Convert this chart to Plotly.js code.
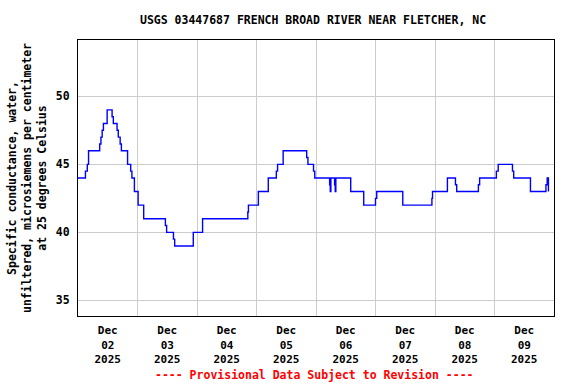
<!DOCTYPE html>
<html>
<head>
<meta charset="utf-8">
<script src="https://cdn.plot.ly/plotly-3.0.1.min.js"></script>
<style>html,body{margin:0;padding:0;background:#fff;}#chart{width:576px;height:384px;}</style>
</head>
<body>
<div id="chart"></div>
<script>
// Change points of the 15-minute record (value holds until the next time)
var times = [
'2025-12-02 00:00','2025-12-02 03:00','2025-12-02 03:45','2025-12-02 04:15','2025-12-02 08:45',
'2025-12-02 09:15','2025-12-02 09:45','2025-12-02 10:15','2025-12-02 11:45','2025-12-02 13:45',
'2025-12-02 14:15','2025-12-02 15:45','2025-12-02 16:15','2025-12-02 17:00','2025-12-02 17:30',
'2025-12-02 20:00','2025-12-02 21:15','2025-12-02 21:45','2025-12-02 22:45','2025-12-03 00:15',
'2025-12-03 02:30','2025-12-03 11:15','2025-12-03 11:45','2025-12-03 14:30','2025-12-03 15:00',
'2025-12-03 22:30','2025-12-04 02:15','2025-12-04 20:30','2025-12-04 20:45','2025-12-05 00:45',
'2025-12-05 04:45','2025-12-05 08:00','2025-12-05 08:30','2025-12-05 10:45','2025-12-05 20:15',
'2025-12-05 20:45','2025-12-05 23:00','2025-12-05 23:30','2025-12-06 05:30','2025-12-06 05:45',
'2025-12-06 06:00','2025-12-06 07:30','2025-12-06 07:45','2025-12-06 08:00','2025-12-06 14:00',
'2025-12-06 19:15','2025-12-07 00:00','2025-12-07 00:30','2025-12-07 11:00','2025-12-07 22:45',
'2025-12-07 23:00','2025-12-08 05:00','2025-12-08 08:15','2025-12-08 08:45','2025-12-08 17:30',
'2025-12-08 18:00','2025-12-09 00:45','2025-12-09 01:30','2025-12-09 07:15','2025-12-09 07:45',
'2025-12-09 14:30','2025-12-09 20:45','2025-12-09 21:15','2025-12-09 21:45'
];
var values = [
44,44.5,45,46,46.5,
47,47.5,48,49,48.5,
48,47.5,47,46.5,46,
45,44.5,44,43,42,
41,40.5,40,39.5,39,
40,41,41.5,42,43,
44,44.5,45,46,45.5,
45,44.5,44,43.5,43,
44,43.5,43,44,43,
42,42.5,43,42,42.5,
43,44,43.5,43,43.5,
44,44.5,45,44.5,44,
43,43.5,44,43
];

var dayBounds = ['2025-12-02','2025-12-03','2025-12-04','2025-12-05','2025-12-06',
                 '2025-12-07','2025-12-08','2025-12-09','2025-12-10'];
var labelTimes = ['2025-12-02 12:00','2025-12-03 12:00','2025-12-04 12:00','2025-12-05 12:00',
                  '2025-12-06 12:00','2025-12-07 12:00','2025-12-08 12:00','2025-12-09 12:00'];
var labelText = ['Dec<br>02<br>2025','Dec<br>03<br>2025','Dec<br>04<br>2025','Dec<br>05<br>2025',
                 'Dec<br>06<br>2025','Dec<br>07<br>2025','Dec<br>08<br>2025','Dec<br>09<br>2025'];
var yTicks = [35, 40, 45, 50];

var titleText = 'USGS 03447687 FRENCH BROAD RIVER NEAR FLETCHER, NC';
var yTitle = 'Specific conductance, water,<br>unfiltered, microsiemens per centimeter<br>at 25 degrees Celsius';
var footer = '---- Provisional Data Subject to Revision ----';

var F = 'DejaVu Sans Mono, Liberation Mono, monospace';

var trace = {
  x: times, y: values, type: 'scatter', mode: 'lines',
  line: {color: '#0000ff', width: 1.4, shape: 'hv'},
  hoverinfo: 'skip'
};

var layout = {
  width: 576, height: 384,
  margin: {l: 78, r: 22, t: 40, b: 68, pad: 0},
  paper_bgcolor: '#ffffff', plot_bgcolor: '#ffffff',
  showlegend: false,
  font: {family: F, size: 11.5, color: '#000', weight: 'bold'},
  title: {text: '<b>' + titleText + '</b>', xref: 'container', x: 0.5435, xanchor: 'center',
          yref: 'container', y: 1 - 20/384, yanchor: 'middle',
          font: {family: F, size: 11.5, color: '#000'}},
  xaxis: {
    type: 'date', range: ['2025-12-02 00:00', '2025-12-10 00:00'],
    tickmode: 'array', tickvals: labelTimes, ticktext: labelText.map(function(s){return '<b>'+s+'</b>';}),
    ticks: '', showgrid: false, zeroline: false, ticklabelstandoff: 4,
    showline: true, mirror: true, linecolor: '#000', linewidth: 1,
    tickfont: {family: F, size: 11, color: '#000'},
    minor: {tickmode: 'array', tickvals: dayBounds, showgrid: true, gridcolor: '#cccccc', gridwidth: 1, ticks: ''}
  },
  yaxis: {
    range: [33.85, 54.14], tickmode: 'array', tickvals: yTicks,
    ticktext: yTicks.map(function(v){return '<b>'+v+'</b>';}),
    ticks: '', showgrid: true, gridcolor: '#cccccc', gridwidth: 1, zeroline: false, ticklabelstandoff: 5,
    showline: true, mirror: true, linecolor: '#000', linewidth: 1,
    tickfont: {family: F, size: 11.5, color: '#000'}
  },
  annotations: [
    {text: '<b>' + yTitle + '</b>', xref: 'paper', yref: 'paper', x: 0, y: 0.5,
     xanchor: 'center', yanchor: 'middle', xshift: -51, textangle: -90, showarrow: false,
     font: {family: F, size: 11.5, color: '#000'}},
    {text: '<b>' + footer + '</b>', xref: 'paper', yref: 'paper', x: 0.496, y: 0,
     xanchor: 'center', yanchor: 'middle', yshift: -59, showarrow: false,
     font: {family: F, size: 11.5, color: '#ff0000'}}
  ]
};

Plotly.newPlot('chart', [trace], layout, {displayModeBar: false, staticPlot: true});
</script>
</body>
</html>
